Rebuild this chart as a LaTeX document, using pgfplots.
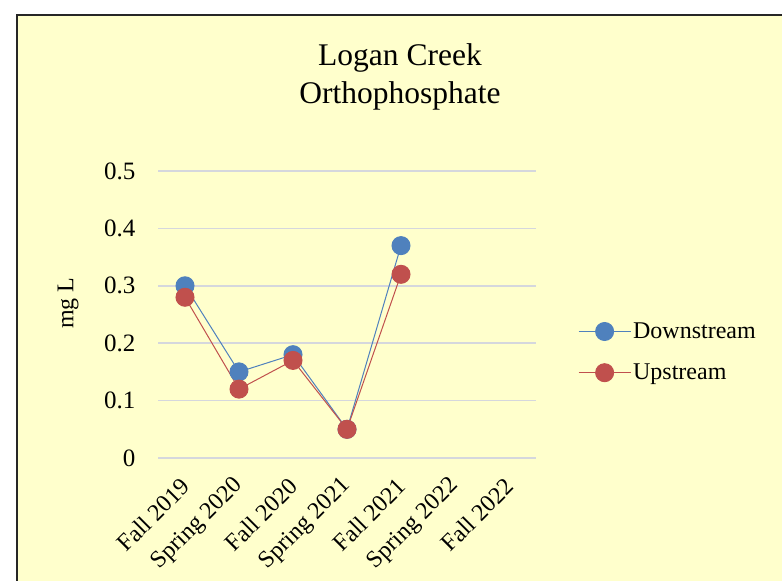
\documentclass[border=0pt]{standalone}
\usepackage{pgfplots}
\pgfplotsset{compat=1.18}
\usepackage{fontspec}
\setmainfont{Liberation Serif}
\definecolor{bg}{HTML}{FFFFCC}
\definecolor{dsblue}{HTML}{4F81BD}
\definecolor{usred}{HTML}{C0504D}
\definecolor{gridc}{HTML}{D5D7DD}
\begin{document}
\begin{tikzpicture}[x=1bp,y=1bp]
\useasboundingbox (0,0) rectangle (782,581);
\fill[white] (0,0) rectangle (782,581);
\fill[bg] (17,0) rectangle (782,566);
\draw[line width=1.5bp, black!85] (17,0) -- (17,566) -- (782,566);
\node[font=\fontsize{31.5bp}{38bp}\selectfont, align=center] at (400,504) {Logan Creek\\Orthophosphate};
\begin{axis}[
  at={(158bp,123bp)}, anchor=south west, scale only axis,
  width=378bp, height=287bp,
  xmin=-0.5, xmax=6.5, ymin=0, ymax=0.5,
  ytick={0,0.1,0.2,0.3,0.4,0.5},
  xtick={0,1,2,3,4,5,6},
  xticklabels={Fall 2019, Spring 2020, Fall 2020, Spring 2021, Fall 2021, Spring 2022, Fall 2022},
  axis line style={draw=none}, major tick length=0pt,
  ymajorgrids, grid style={gridc, line width=1.5bp},
  /pgf/number format/assume math mode=true,
  yticklabel style={/pgf/number format/fixed, /pgf/number format/precision=1, xshift=-19bp,
    font=\fontsize{25bp}{29bp}\selectfont},
  xticklabel style={yshift=-22bp, xshift=3bp, rotate=45, anchor=east, font=\fontsize{24bp}{28bp}\selectfont},
  ylabel={mg L},
  ylabel style={at={(axis description cs:-0.238,0.54)}, anchor=center, font=\fontsize{24bp}{28bp}\selectfont},
  legend style={at={(axis description cs:1.103,0.369)}, anchor=west, draw=none, fill=none,
    font=\fontsize{24bp}{28bp}\selectfont, row sep=20bp},
  legend cell align=left,
  legend image code/.code={\draw[mark repeat=2,mark phase=2] plot coordinates {(0bp,0bp) (26bp,0bp) (52bp,0bp)};},
]
\addplot[dsblue, line width=1bp, mark=*, mark size=9bp, mark options={fill=dsblue, draw=dsblue}]
  coordinates {(0,0.30) (1,0.15) (2,0.18) (3,0.05) (4,0.37)};
\addlegendentry{Downstream}
\addplot[usred, line width=1bp, mark=*, mark size=9bp, mark options={fill=usred, draw=usred}]
  coordinates {(0,0.28) (1,0.12) (2,0.17) (3,0.05) (4,0.32)};
\addlegendentry{Upstream}
\end{axis}
\end{tikzpicture}
\end{document}
